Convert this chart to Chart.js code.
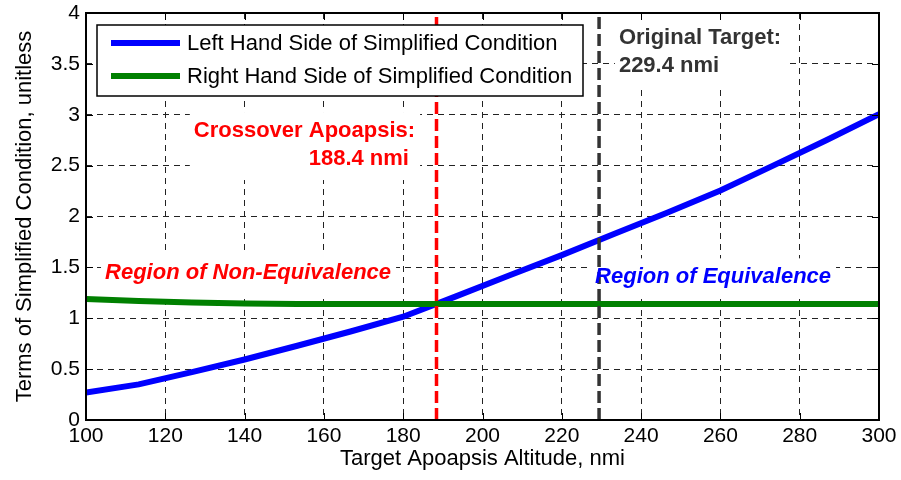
<!DOCTYPE html>
<html><head><meta charset="utf-8">
<script src="https://cdn.jsdelivr.net/npm/chart.js@4.4.1/dist/chart.umd.min.js"></script>
<style>html,body{margin:0;padding:0;background:#fff}#wrap{width:901px;height:480px}</style>
</head><body><div id="wrap"><canvas id="c" width="901" height="480"></canvas></div>
<script>
// ---- data ----
const altitudes = [100, 113.3, 126.7, 140, 153.3, 166.7, 180, 193.3, 206.7, 220, 233.3, 246.7, 260, 273.3, 286.7, 300];
const lhsValues = [0.27, 0.35, 0.47, 0.595, 0.73, 0.87, 1.015, 1.215, 1.42, 1.62, 1.83, 2.04, 2.255, 2.50, 2.75, 3.005];
const rhsValues = [1.19, 1.17, 1.155, 1.145, 1.14, 1.14, 1.14, 1.14, 1.14, 1.14, 1.14, 1.14, 1.14, 1.14, 1.14, 1.14];
const seriesLabels = ['Left Hand Side of Simplified Condition', 'Right Hand Side of Simplified Condition'];
const crossoverAltitude = 188.4;
const originalTargetAltitude = 229.4;
const xTickValues = [100, 120, 140, 160, 180, 200, 220, 240, 260, 280, 300];
const xTickLabels = ['100', '120', '140', '160', '180', '200', '220', '240', '260', '280', '300'];
const yTickValues = [0, 0.5, 1, 1.5, 2, 2.5, 3, 3.5, 4];
const yTickLabels = ['0', '0.5', '1', '1.5', '2', '2.5', '3', '3.5', '4'];
const xTitle = 'Target Apoapsis Altitude, nmi';
const yTitle = 'Terms of Simplified Condition, unitless';

const FONT = '"Liberation Sans", Arial, Helvetica, sans-serif';
Chart.defaults.font.family = FONT;
Chart.defaults.color = '#000';

const yMin = yTickValues[0], yMax = yTickValues[yTickValues.length - 1];
const xMin = xTickValues[0], xMax = xTickValues[xTickValues.length - 1];

const pts = (xs, ys) => xs.map((x, i) => ({x: x, y: ys[i]}));

const textNotes = [
  {lines: ['Crossover Apoapsis:', '188.4 nmi '], x: 183.0, y: 2.781, align: 'right', color: '#ff0000', style: 'bold'},
  {lines: ['Original Target:', '229.4 nmi'], x: 234.4, y: 3.695, align: 'left', color: '#333333', style: 'bold'},
  {lines: ['Region of Non-Equivalence'], x: 104.8, y: 1.383, align: 'left', color: '#ff0000', style: 'italic bold'},
  {lines: ['Region of Equivalence'], x: 228.4, y: 1.343, align: 'left', color: '#0000ff', style: 'italic bold'}
];

function noteFont(n) { return n.style + ' 22px ' + FONT; }

const notesPlugin = {
  id: 'notes',
  beforeDatasetsDraw(chart) {
    const {ctx, scales} = chart;
    ctx.save();
    textNotes.forEach(n => {
      ctx.font = noteFont(n);
      const w = Math.max(...n.lines.map(l => ctx.measureText(l).width));
      const px = scales.x.getPixelForValue(n.x);
      const py = scales.y.getPixelForValue(n.y);
      const left = n.align === 'right' ? px - w : px;
      ctx.fillStyle = '#fff';
      ctx.fillRect(left - 4, py - 25, w + 9, (n.lines.length - 1) * 28 + 25 + 15);
    });
    ctx.restore();
  },
  afterDatasetsDraw(chart) {
    const {ctx, scales, chartArea} = chart;
    ctx.save();
    textNotes.forEach(n => {
      ctx.font = noteFont(n);
      ctx.fillStyle = n.color;
      ctx.textAlign = n.align;
      ctx.textBaseline = 'alphabetic';
      const px = scales.x.getPixelForValue(n.x);
      const py = scales.y.getPixelForValue(n.y);
      n.lines.forEach((l, i) => ctx.fillText(l, px, py + i * 28));
    });
    // frame and inward ticks
    const {left, right, top, bottom} = chartArea;
    ctx.strokeStyle = '#000';
    ctx.lineWidth = 1;
    ctx.beginPath();
    xTickValues.forEach(v => {
      const x = Math.round(scales.x.getPixelForValue(v)) + 0.5;
      ctx.moveTo(x, bottom); ctx.lineTo(x, bottom - 7);
      ctx.moveTo(x, top); ctx.lineTo(x, top + 7);
    });
    yTickValues.forEach(v => {
      const y = Math.round(scales.y.getPixelForValue(v)) + 0.5;
      ctx.moveTo(left, y); ctx.lineTo(left + 7, y);
      ctx.moveTo(right, y); ctx.lineTo(right - 7, y);
    });
    ctx.stroke();
    ctx.lineWidth = 2;
    ctx.strokeRect(left, top, right - left, bottom - top);
    ctx.restore();
  }
};

const legendPlugin = {
  id: 'boxLegend',
  afterDraw(chart) {
    const {ctx, chartArea} = chart;
    const items = chart.data.datasets.filter(d => d.inLegend).sort((a, b) => a.legendIndex - b.legendIndex);
    ctx.save();
    ctx.font = '22px ' + FONT;
    const maxW = Math.max(...items.map(d => ctx.measureText(d.label).width));
    const x0 = Math.round(chartArea.left + 11), y0 = Math.round(chartArea.top + 12);
    const w = Math.round(90 + maxW + 11), h = 71;
    ctx.fillStyle = '#fff';
    ctx.fillRect(x0, y0, w, h);
    ctx.strokeStyle = '#000';
    ctx.lineWidth = 1.5;
    ctx.strokeRect(x0, y0, w, h);
    items.forEach((d, i) => {
      const cy = y0 + 18 + i * 33;
      ctx.strokeStyle = d.borderColor;
      ctx.lineWidth = 6;
      ctx.beginPath();
      ctx.moveTo(x0 + 14, cy); ctx.lineTo(x0 + 83, cy);
      ctx.stroke();
      ctx.fillStyle = '#000';
      ctx.textBaseline = 'middle';
      ctx.textAlign = 'left';
      ctx.fillText(d.label, x0 + 90, cy + 1);
    });
    ctx.restore();
  }
};

new Chart(document.getElementById('c'), {
  type: 'scatter',
  data: {
    datasets: [
      {label: seriesLabels[0], data: pts(altitudes, lhsValues), showLine: true, borderColor: '#0000ff',
       borderWidth: 6, pointRadius: 0, tension: 0, order: 2, inLegend: true, legendIndex: 0},
      {label: seriesLabels[1], data: pts(altitudes, rhsValues), showLine: true, borderColor: '#008000',
       borderWidth: 6, pointRadius: 0, tension: 0, order: 1, inLegend: true, legendIndex: 1},
      {label: 'crossover', data: [{x: crossoverAltitude, y: yMin}, {x: crossoverAltitude, y: yMax}], showLine: true,
       borderColor: '#ff0000', borderWidth: 3.5, borderDash: [12, 5], pointRadius: 0, order: 0},
      {label: 'original', data: [{x: originalTargetAltitude, y: yMin}, {x: originalTargetAltitude, y: yMax}], showLine: true,
       borderColor: '#333333', borderWidth: 3.5, borderDash: [12, 5], pointRadius: 0, order: 0}
    ]
  },
  options: {
    responsive: false,
    animation: false,
    devicePixelRatio: 1,
    layout: {padding: {left: 0, right: 22, top: 13, bottom: 0}},
    plugins: {legend: {display: false}, tooltip: {enabled: false}},
    scales: {
      x: {
        type: 'linear', min: xMin, max: xMax,
        afterBuildTicks: s => { s.ticks = xTickValues.map(v => ({value: v})); },
        afterFit: s => { s.height = 60; s.paddingLeft = 0; s.paddingRight = 0; },
        ticks: {font: {size: 21}, color: '#000', padding: 4, maxRotation: 0,
                callback: v => xTickLabels[xTickValues.indexOf(v)]},
        grid: {color: '#222', lineWidth: 1, drawTicks: false},
        border: {display: false, dash: [6, 5]},
        title: {display: true, text: xTitle, font: {size: 22}, color: '#000', padding: {top: 0, bottom: 8}}
      },
      y: {
        type: 'linear', min: yMin, max: yMax,
        afterBuildTicks: s => { s.ticks = yTickValues.map(v => ({value: v})); },
        afterFit: s => { s.width = 86; s.paddingTop = 0; s.paddingBottom = 0; },
        ticks: {font: {size: 21}, color: '#000', padding: 6,
                callback: v => yTickLabels[yTickValues.indexOf(v)]},
        grid: {color: '#222', lineWidth: 1, drawTicks: false},
        border: {display: false, dash: [6, 5]},
        title: {display: true, text: yTitle, font: {size: 22}, color: '#000', padding: {top: 12, bottom: 0}}
      }
    }
  },
  plugins: [notesPlugin, legendPlugin]
});
</script></body></html>
